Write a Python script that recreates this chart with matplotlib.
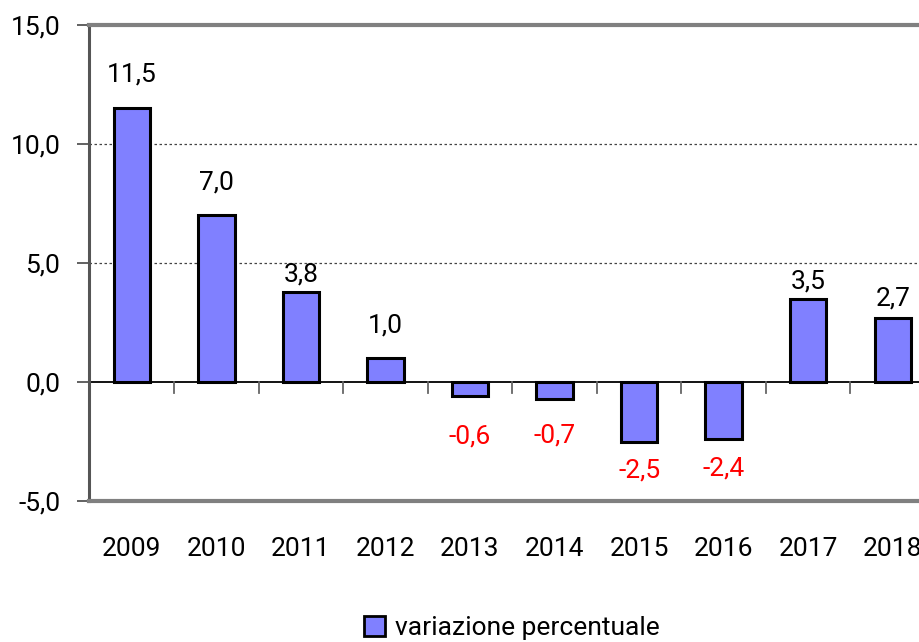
import matplotlib
matplotlib.use("Agg")
import matplotlib.pyplot as plt
from matplotlib.patches import Patch

years = ["2009", "2010", "2011", "2012", "2013", "2014", "2015", "2016", "2017", "2018"]
values = [11.5, 7.0, 3.8, 1.0, -0.6, -0.7, -2.5, -2.4, 3.5, 2.7]
value_labels = ["11,5", "7,0", "3,8", "1,0", "-0,6", "-0,7", "-2,5", "-2,4", "3,5", "2,7"]
yticks = [-5, 0, 5, 10, 15]
ytick_labels = ["-5,0", "0,0", "5,0", "10,0", "15,0"]
series_name = "variazione percentuale"

# label offsets (in pixels) from bar end, styling only
label_pad = [34, 33, 17, 33, 40, 37, 29, 29, 17, 19]

FONT = ["Roboto", "DejaVu Sans"]
plt.rcParams["font.family"] = FONT
FS = 19

W, H = 920, 642
fig = plt.figure(figsize=(W / 100, H / 100), dpi=100)
ax = fig.add_axes([89.5 / W, (H - 501) / H, (935 - 89.5) / W, (501 - 25) / H])

x = list(range(len(years)))
ax.bar(x, values, width=0.43, color="#8080FF", edgecolor="black", linewidth=2.2, zorder=3)

ax.set_xlim(-0.5, len(years) - 0.5)
ax.set_ylim(-5, 15)

for g in [5, 10]:
    ax.axhline(g, color="#444444", linestyle=(0, (2, 2)), linewidth=0.9, zorder=1)
ax.axhline(0, color="black", linewidth=1.3, zorder=2)

for b in range(1, len(years)):
    ax.plot([b - 0.5, b - 0.5], [0, -0.45], color="#666666", linewidth=1.3, zorder=2, clip_on=False)

ax.set_yticks(yticks)
ax.set_yticklabels(ytick_labels, fontsize=FS)
ax.tick_params(axis="y", length=9, width=1.3, color="#555555", pad=12)
ax.set_xticks(x)
ax.set_xticklabels(years, fontsize=FS)
ax.tick_params(axis="x", length=0, pad=26)

for s in ["top", "bottom"]:
    ax.spines[s].set_color("#808080")
    ax.spines[s].set_linewidth(3)
ax.spines["left"].set_color("#555555")
ax.spines["left"].set_linewidth(2.2)
ax.spines["right"].set_visible(False)

for xi, v, lab, p in zip(x, values, value_labels, label_pad):
    if v >= 0:
        ax.annotate(lab, (xi, v), xytext=(0, p * 0.72), textcoords="offset points",
                    ha="center", va="center", fontsize=FS, color="black")
    else:
        ax.annotate(lab, (xi, v), xytext=(0, -p * 0.72), textcoords="offset points",
                    ha="center", va="center", fontsize=FS, color="#FF0000")

handle = Patch(facecolor="#8080FF", edgecolor="black", linewidth=2)
fig.legend([handle], [series_name], loc="center", bbox_to_anchor=(512 / W, 1 - 628 / H),
           frameon=False, fontsize=FS, handlelength=0.8, handleheight=0.8, handletextpad=0.4)

fig.savefig("out.png", dpi=100)
